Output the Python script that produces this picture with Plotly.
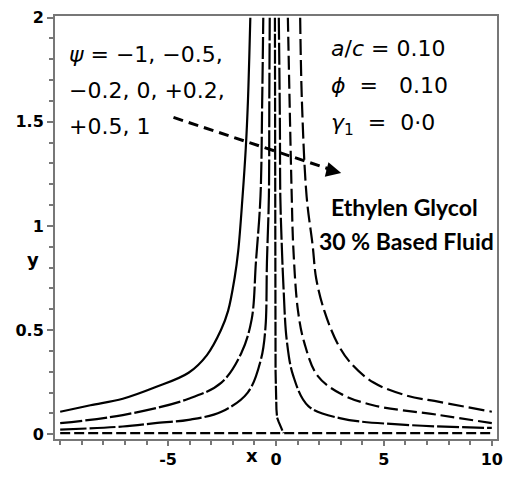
import plotly.graph_objects as go

# Streamlines (x, y)
a_x = [-10, -8.6, -7.1, -5.6, -4.05, -3.2, -2.55, -2.22, -1.92, -1.75, -1.55, -1.4, -1.3, -1.19]
a_y = [0.108, 0.139, 0.17, 0.225, 0.295, 0.38, 0.5, 0.592, 0.749, 0.88, 1.14, 1.374, 1.6, 2.0]

b_x = [-10, -7.1, -4.05, -2.53, -1.61, -1.13, -0.93, -0.72, -0.64, -0.59]
b_y = [0.053, 0.092, 0.17, 0.248, 0.389, 0.55, 0.827, 1.14, 1.6, 2.0]

c_x = [-10, -7.1, -5.6, -4.05, -2.53, -1.31, -0.7, -0.49, -0.42, -0.33, -0.31, -0.29]
c_y = [0.022, 0.037, 0.053, 0.069, 0.108, 0.2, 0.358, 0.51, 0.827, 1.14, 1.6, 2.0]

d_x = [-0.05, -0.05, -0.04, -0.03, -0.02, 0.02, 0.05, 0.12, 0.35]
d_y = [2.0, 1.5, 1.0, 0.6, 0.3, 0.12, 0.08, 0.06, 0.005]

g_x = [0.13, 0.18, 0.2, 0.27, 0.35, 0.5, 0.8, 1.5, 3.0, 6.0, 10]
g_y = [2.0, 1.5, 1.14, 0.9, 0.7, 0.45, 0.28, 0.135, 0.076, 0.045, 0.03]

f_x = [0.55, 0.65, 0.73, 0.8, 1.02, 1.32, 1.93, 3.0, 4.5, 7.57, 10]
f_y = [2.0, 1.5, 1.14, 0.9, 0.592, 0.436, 0.28, 0.194, 0.139, 0.092, 0.053]

e_x = [1.12, 1.2, 1.42, 1.7, 1.86, 2.24, 2.85, 3.46, 4.52, 6.04, 7.57, 10]
e_y = [2.0, 1.6, 1.14, 0.905, 0.749, 0.592, 0.436, 0.342, 0.248, 0.186, 0.155, 0.108]

base_x = [-10, 10]
base_y = [0.005, 0.005]

x_ticks = [-5, 0, 5, 10]
y_ticks = [0, 0.5, 1, 1.5, 2]

fig = go.Figure()

def add(xs, ys, dash, shape="spline", width=2.2):
    fig.add_trace(go.Scatter(x=xs, y=ys, mode="lines",
                             line=dict(color="black", width=width, dash=dash, shape=shape),
                             hoverinfo="skip", showlegend=False))

add(a_x, a_y, "solid")
add(b_x, b_y, "22px,3px")
add(c_x, c_y, "26px,3px")
add(d_x, d_y, "14px,2px", shape="linear")
add(g_x, g_y, "22px,3px")
add(f_x, f_y, "14px,5px")
add(e_x, e_y, "16px,5px")
add(base_x, base_y, "10px,4px", shape="linear", width=2.3)

# dashed arrow
fig.add_shape(type="line", x0=-4.75, y0=1.521, x1=2.5, y1=1.272,
              line=dict(color="black", width=3, dash="10px,6px"))
fig.add_annotation(x=3.02, y=1.254, ax=-16, ay=-4, axref="pixel", ayref="pixel",
                   showarrow=True, arrowhead=2, arrowsize=1.2, arrowwidth=2.5,
                   arrowcolor="black", text="")

font_main = dict(family="DejaVu Sans", size=22, color="black")
for txt, yy in [("<i>ψ</i> = −1, −0.5,", 1.825), ("−0.2, 0, +0.2,", 1.652), ("+0.5, 1", 1.479)]:
    fig.add_annotation(x=-9.69, y=yy, text=txt, showarrow=False, xanchor="left",
                       yanchor="middle", font=font_main)

for txt, yy in [("<i>a</i>/<i>c</i> = 0.10", 1.853),
                ("<i>ϕ</i>  =   0.10", 1.676),
                ("<i>γ</i><sub>1</sub>  =  0·0", 1.488)]:
    fig.add_annotation(x=2.47, y=yy, text=txt, showarrow=False, xanchor="left",
                       yanchor="middle", font=font_main)

font_fluid = dict(family="Lato", size=23, color="black", weight="bold")
fig.add_annotation(x=5.94, y=1.091, text="Ethylen Glycol", showarrow=False,
                   xanchor="center", yanchor="middle", font=font_fluid)
fig.add_annotation(x=6.03, y=0.927, text="30 % Based Fluid", showarrow=False,
                   xanchor="center", yanchor="middle", font=font_fluid)

# axis labels
fig.add_annotation(xref="paper", yref="paper", x=0.446, y=-0.04, text="<b>x</b>",
                   xanchor="center", yanchor="middle",
                   showarrow=False, font=dict(family="DejaVu Sans", size=18, color="black"))
fig.add_annotation(xref="paper", yref="paper", x=-0.049, y=0.424, text="<b>y</b>",
                   xanchor="center", yanchor="middle",
                   showarrow=False, font=dict(family="DejaVu Sans", size=18, color="black"))

tickfont = dict(family="DejaVu Sans", size=16, color="black", weight="bold")
axcol = "#777777"
fig.update_xaxes(range=[-10.24, 10.24], tickvals=x_ticks, ticktext=[str(v) for v in x_ticks],
                 ticks="outside", ticklen=5, tickwidth=1.5, tickcolor=axcol,
                 showline=True, linecolor=axcol, linewidth=2, mirror=True,
                 showgrid=False, zeroline=False, tickfont=tickfont,
                 minor=dict(dtick=1, tick0=0, ticks="outside", ticklen=4, tickcolor=axcol, tickwidth=1.5))
fig.update_yaxes(range=[-0.023, 2.008], tickvals=y_ticks, ticktext=["0", "0.5", "1", "1.5", "2"],
                 ticks="outside", ticklen=6, tickwidth=1.5, tickcolor=axcol,
                 showline=True, linecolor=axcol, linewidth=2, mirror=True,
                 showgrid=False, zeroline=False, tickfont=tickfont,
                 minor=dict(dtick=0.1, tick0=0, ticks="outside", ticklen=4, tickcolor=axcol, tickwidth=1.5))

fig.update_layout(width=511, height=477, margin=dict(l=55, r=8, t=14, b=29),
                  plot_bgcolor="white", paper_bgcolor="white")

fig.write_html("out.html")
